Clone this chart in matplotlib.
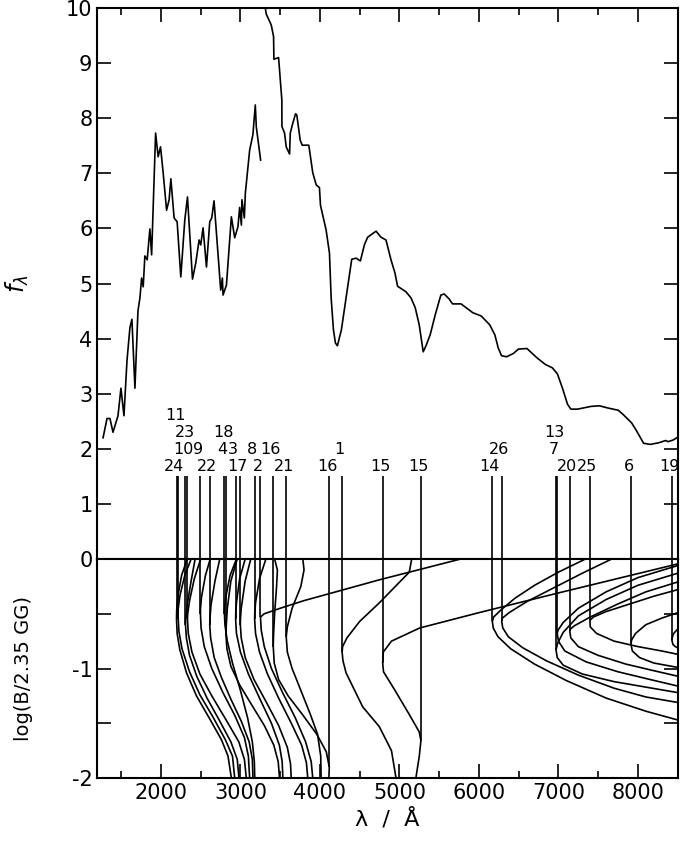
import numpy as np
import matplotlib
matplotlib.use("Agg")
import matplotlib.pyplot as plt
from matplotlib.ticker import MultipleLocator, FuncFormatter

# spectrum (upper panel), UV part and optical part
uv_wl = [1272, 1322, 1359, 1397, 1460, 1497, 1535, 1573, 1610, 1635, 1673, 1711, 1736, 1757,
         1777, 1798, 1827, 1861, 1883, 1933, 1965, 1995, 2028, 2071, 2103, 2125, 2166, 2204,
         2250, 2300, 2334, 2397, 2438, 2480, 2501, 2530, 2573, 2614, 2639, 2668, 2752, 2773,
         2781, 2824, 2886, 2928, 2969, 2990, 3012, 3019, 3049, 3062, 3116, 3157, 3187, 3200, 3254]
uv_flux = [2.2, 2.55, 2.55, 2.3, 2.6, 3.1, 2.6, 3.6, 4.2, 4.35, 3.1, 4.5, 4.74, 5.10,
           4.94, 5.50, 5.43, 5.99, 5.52, 7.73, 7.30, 7.48, 7.01, 6.33, 6.52, 6.90, 6.19, 6.12,
           5.12, 6.15, 6.57, 5.08, 5.37, 5.79, 5.70, 6.01, 5.30, 6.12, 6.19, 6.50, 4.88, 5.10,
           4.79, 4.97, 6.21, 5.83, 6.03, 6.38, 6.06, 6.52, 6.19, 6.64, 7.42, 7.70, 8.24, 7.84, 7.24]

opt_wl = [3290, 3325, 3388, 3417, 3421, 3480, 3521, 3522, 3555, 3576, 3618, 3627, 3659, 3693,
          3709, 3752, 3777, 3860, 3910, 3953, 3994, 4007, 4078, 4120, 4141, 4170, 4195, 4220,
          4270, 4329, 4400, 4455, 4509, 4559, 4600, 4706, 4768, 4831, 4894, 4944, 4977, 5082,
          5145, 5199, 5249, 5299, 5337, 5387, 5450, 5521, 5563, 5625, 5668, 5775, 5923, 6029,
          6136, 6200, 6243, 6284, 6348, 6433, 6497, 6604, 6731, 6837, 6923, 6987, 7051, 7114,
          7156, 7241, 7412, 7517, 7624, 7752, 7816, 7921, 7985, 8072, 8156, 8263, 8348, 8380,
          8444, 8500]
opt_flux = [10.2, 9.89, 9.69, 9.48, 9.07, 9.10, 8.33, 7.85, 7.73, 7.48, 7.35, 7.73, 7.91, 8.08,
            8.06, 7.60, 7.51, 7.51, 7.01, 6.79, 6.74, 6.42, 5.97, 5.55, 4.74, 4.16, 3.92, 3.87,
            4.16, 4.74, 5.44, 5.46, 5.41, 5.70, 5.84, 5.95, 5.84, 5.79, 5.43, 5.19, 4.95, 4.85,
            4.74, 4.56, 4.25, 3.76, 3.88, 4.07, 4.43, 4.79, 4.81, 4.72, 4.63, 4.63, 4.47, 4.41,
            4.25, 4.07, 3.83, 3.69, 3.67, 3.73, 3.81, 3.82, 3.65, 3.53, 3.47, 3.36, 3.10, 2.81,
            2.72, 2.72, 2.77, 2.78, 2.74, 2.70, 2.62, 2.47, 2.32, 2.10, 2.08, 2.11, 2.15, 2.13,
            2.16, 2.21]

# stationary components: wavelength, label, stacking level, log B of stationary point
stat_wl = [2196, 2216, 2309, 2334, 2497, 2614, 2799, 2819, 2940, 2999, 3179, 3250, 3413,
           3576, 4120, 4279, 4789, 5270, 6169, 6287, 6970, 6985, 7143, 7394, 7913, 8427]
stat_lab = ["24", "11", "10", "23", "9", "22", "4", "18", "3", "17", "8", "2", "16",
            "21", "16", "1", "15", "15", "14", "26", "7", "13", "20", "25", "6", "19"]
stat_lev = [0, 3, 1, 2, 1, 0, 1, 2, 1, 0, 1, 0, 1, 0, 0, 1, 0, 0, 0, 1, 1, 2, 0, 0, 0, 0]
stat_logb = [-0.55, -0.52, -0.6, -0.55, -0.5, -0.6, -0.5, -0.7, -0.55, -0.6, -0.55, -0.53, -0.8,
             -0.71, -1.9, -0.85, -0.95, -1.66, -0.57, -0.57, -0.83, -0.68, -0.66, -0.56, -0.78, -0.74]

# wavelength vs field curves (lambda, log B), one per transition
c24 = [(2330, 0), (2260, -0.15), (2215, -0.33), (2198, -0.47), (2196, -0.55), (2204, -0.68), (2238, -0.83),
       (2322, -1.04), (2447, -1.25), (2614, -1.46), (2761, -1.65), (2844, -1.8), (2886, -2.0)]
c11 = [(2380, 0), (2300, -0.15), (2240, -0.33), (2218, -0.45), (2216, -0.52), (2226, -0.66), (2265, -0.82),
       (2360, -1.03), (2490, -1.24), (2660, -1.45), (2810, -1.65), (2900, -1.8), (2928, -2.0)]
c10 = [(2430, 0), (2380, -0.2), (2330, -0.42), (2311, -0.55), (2309, -0.6), (2320, -0.72), (2360, -0.88),
       (2450, -1.07), (2580, -1.27), (2740, -1.48), (2880, -1.67), (2960, -1.83), (2982, -2.0)]
c23 = [(2500, 0), (2420, -0.18), (2360, -0.38), (2337, -0.5), (2334, -0.55), (2344, -0.68), (2390, -0.85),
       (2490, -1.05), (2640, -1.25), (2820, -1.47), (2980, -1.67), (3050, -1.83), (3074, -2.0)]
c9 = [(2620, 0), (2560, -0.15), (2510, -0.35), (2498, -0.45), (2497, -0.5), (2505, -0.63), (2545, -0.8),
      (2640, -1.0), (2780, -1.22), (2930, -1.43), (3050, -1.63), (3100, -1.8), (3116, -2.0)]
c22 = [(2740, 0), (2680, -0.2), (2630, -0.42), (2616, -0.55), (2614, -0.6), (2625, -0.72), (2670, -0.9),
       (2760, -1.08), (2880, -1.28), (3010, -1.48), (3110, -1.67), (3150, -1.83), (3158, -2.0)]
c4 = [(2950, 0), (2870, -0.15), (2815, -0.35), (2800, -0.45), (2799, -0.5), (2805, -0.6), (2835, -0.75),
      (2900, -0.95), (3000, -1.2), (3090, -1.45), (3150, -1.67), (3175, -1.85), (3180, -2.0)]
c18 = [(2960, 0), (2880, -0.2), (2835, -0.45), (2821, -0.62), (2819, -0.7), (2830, -0.82), (2880, -0.98),
       (2990, -1.15), (3140, -1.33), (3300, -1.52), (3420, -1.7), (3475, -1.85), (3492, -2.0)]
c3 = [(3060, 0), (2990, -0.18), (2950, -0.4), (2941, -0.5), (2940, -0.55), (2950, -0.68), (3000, -0.85),
      (3100, -1.05), (3240, -1.27), (3390, -1.5), (3490, -1.7), (3525, -1.85), (3534, -2.0)]
c17 = [(3130, 0), (3060, -0.2), (3010, -0.45), (3000, -0.55), (2999, -0.6), (3010, -0.72), (3060, -0.9),
       (3170, -1.1), (3320, -1.3), (3480, -1.52), (3590, -1.72), (3630, -1.87), (3639, -2.0)]
c8 = [(3320, 0), (3240, -0.18), (3190, -0.4), (3180, -0.5), (3179, -0.55), (3190, -0.68), (3240, -0.85),
      (3340, -1.05), (3480, -1.27), (3640, -1.5), (3770, -1.7), (3830, -1.86), (3847, -2.0)]
c2 = [(5770, 0), (4748, -0.19), (4200, -0.3), (3800, -0.38), (3500, -0.45), (3300, -0.5), (3252, -0.53),
      (3262, -0.65), (3300, -0.8), (3390, -1.0), (3530, -1.22), (3690, -1.45), (3820, -1.67), (3890, -1.85),
      (3910, -2.0)]
c16 = [(3430, 0), (3465, -0.1), (3455, -0.25), (3430, -0.5), (3416, -0.7), (3413, -0.8), (3425, -0.95),
       (3480, -1.1), (3600, -1.25), (3780, -1.42), (3960, -1.6), (4080, -1.76), (4118, -1.9), (4112, -2.0)]
c21 = [(3785, 0), (3800, -0.1), (3760, -0.25), (3650, -0.45), (3590, -0.62), (3576, -0.71), (3590, -0.85),
       (3650, -1.0), (3760, -1.2), (3880, -1.42), (3970, -1.6), (4010, -1.8), (4015, -2.0)]
c1 = [(5154, 0), (5124, -0.12), (4748, -0.4), (4500, -0.57), (4340, -0.72), (4285, -0.8), (4279, -0.85),
      (4290, -0.93), (4329, -1.04), (4538, -1.35), (4746, -1.53), (4900, -1.75), (4957, -2.0)]
c15 = [(8500, -0.045), (7000, -0.31), (6000, -0.49), (5255, -0.63), (4900, -0.75), (4797, -0.85),
       (4789, -0.95), (4800, -1.03), (4936, -1.19), (5124, -1.42), (5250, -1.58), (5270, -1.66),
       (5250, -1.8), (5207, -2.0)]
c14 = [(7340, 0), (7000, -0.12), (6700, -0.24), (6450, -0.36), (6270, -0.47), (6185, -0.53), (6169, -0.57),
       (6180, -0.63), (6240, -0.71), (6400, -0.82), (6700, -0.96), (7100, -1.11), (7600, -1.27), (8100, -1.39),
       (8500, -1.47)]
c26 = [(7670, 0), (7300, -0.13), (6950, -0.26), (6600, -0.39), (6380, -0.49), (6295, -0.54), (6287, -0.57),
       (6300, -0.63), (6370, -0.71), (6550, -0.81), (6850, -0.93), (7250, -1.06), (7700, -1.18), (8100, -1.26),
       (8500, -1.31)]
c7 = [(8500, -0.13), (8000, -0.24), (7600, -0.37), (7250, -0.52), (7060, -0.67), (6990, -0.77), (6970, -0.83),
      (6985, -0.9), (7060, -0.97), (7300, -1.05), (7700, -1.12), (8100, -1.17), (8500, -1.22)]
c13 = [(8500, -0.06), (8000, -0.17), (7600, -0.3), (7250, -0.45), (7060, -0.58), (6995, -0.65), (6985, -0.68),
       (7000, -0.75), (7080, -0.84), (7350, -0.94), (7750, -1.03), (8150, -1.1), (8500, -1.16)]
c20 = [(8500, -0.21), (8100, -0.3), (7750, -0.41), (7400, -0.53), (7200, -0.61), (7150, -0.64), (7143, -0.66),
       (7155, -0.72), (7250, -0.8), (7500, -0.88), (7850, -0.96), (8200, -1.02), (8500, -1.07)]
c25 = [(8500, -0.28), (8200, -0.34), (7900, -0.41), (7600, -0.48), (7440, -0.53), (7396, -0.56), (7400, -0.62),
       (7480, -0.68), (7700, -0.75), (8000, -0.8), (8300, -0.84), (8500, -0.87)]
c6 = [(8500, -0.49), (8300, -0.54), (8100, -0.6), (7970, -0.68), (7920, -0.74), (7913, -0.78), (7930, -0.84),
      (8020, -0.9), (8200, -0.95), (8500, -0.99)]
c19 = [(8500, -0.64), (8450, -0.68), (8430, -0.72), (8427, -0.74), (8440, -0.78), (8470, -0.8), (8500, -0.81)]

curves = [c24, c11, c10, c23, c9, c22, c4, c18, c3, c17, c8, c2, c16, c21, c1, c15,
          c14, c26, c7, c13, c20, c25, c6, c19]

plt.rcParams['font.family'] = 'DejaVu Sans'
fig = plt.figure(figsize=(6.83, 8.42), dpi=100)
ax = fig.add_axes([0.1425, 0.3361, 0.8497, 0.6544])
bx = fig.add_axes([0.1425, 0.0760, 0.8497, 0.2601])

lw = 1.2
ax.plot(uv_wl, uv_flux, color='k', lw=lw)
ax.plot(opt_wl, opt_flux, color='k', lw=lw)
ax.vlines(stat_wl, 0, 1.5, color='k', lw=lw)
for w, lab, lev in zip(stat_wl, stat_lab, stat_lev):
    ax.annotate(lab, (w, 1.67 + 0.31 * lev), xytext=(-1.8, 0), textcoords='offset points',
                ha='center', va='center', fontsize=11.5)

bx.vlines(stat_wl, stat_logb, 0, color='k', lw=lw)
for c in curves:
    c = np.array(c)
    bx.plot(c[:, 0], c[:, 1], color='k', lw=lw, solid_joinstyle='round')

for a in (ax, bx):
    a.set_xlim(1200, 8500)
    a.xaxis.set_major_locator(MultipleLocator(1000))
    a.xaxis.set_minor_locator(MultipleLocator(500))
    for s in a.spines.values():
        s.set_linewidth(1.5)
    a.tick_params(which='both', direction='in', right=True, width=1.2, labelsize=15)
    a.tick_params(which='major', length=10)
    a.tick_params(which='minor', length=5)

ax.set_ylim(0, 10)
ax.yaxis.set_major_locator(MultipleLocator(1))
ax.tick_params(axis='x', which='both', top=True, bottom=False, labelbottom=False)
ax.set_ylabel(r'$f_\lambda$', fontsize=17)

bx.set_ylim(-2, 0)
bx.yaxis.set_major_locator(MultipleLocator(0.5))
bx.yaxis.set_major_formatter(FuncFormatter(lambda v, p: '%d' % v if v == int(v) and v != 0 else ''))
bx.tick_params(axis='x', which='both', top=False)
bx.set_ylabel('log(B/2.35 GG)', fontsize=14)
bx.set_xlabel('λ  /  Å', fontsize=16, labelpad=4)
ax.yaxis.set_label_coords(-0.115, 0.5)
bx.yaxis.set_label_coords(-0.11, 0.5)

fig.savefig('out.png', dpi=100)
